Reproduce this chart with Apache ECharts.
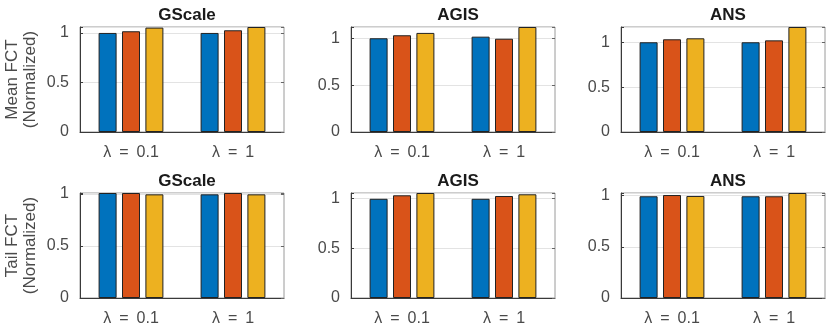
<!DOCTYPE html>
<html>
<head>
<meta charset="utf-8">
<script src="https://cdn.jsdelivr.net/npm/echarts@6/dist/echarts.min.js"></script>
<style>
  html, body { margin: 0; padding: 0; background: #fff; }
  #chart { width: 830px; height: 328px; }
</style>
</head>
<body>
<div id="chart"></div>
<script>
  // categories and labels
  const categories = ['λ = 0.1', 'λ = 1'];
  const titles = ['GScale', 'AGIS', 'ANS'];
  const rowNames = ['Mean FCT\n(Normalized)', 'Tail FCT\n(Normalized)'];
  const yTicks = [0, 0.5, 1];

  // each subplot: three series (blue, red, yellow), values per category
  const meanGScale = [[1.000, 1.000], [1.017, 1.027], [1.054, 1.060]];
  const meanAGIS   = [[1.000, 1.017], [1.032, 0.995], [1.057, 1.120]];
  const meanANS    = [[1.000, 1.000], [1.033, 1.021], [1.044, 1.170]];
  const tailGScale = [[1.010, 0.997], [1.010, 1.010], [0.997, 0.997]];
  const tailAGIS   = [[0.995, 0.995], [1.030, 1.023], [1.053, 1.040]];
  const tailANS    = [[0.994, 0.994], [1.006, 0.994], [0.997, 1.026]];

  const panels = [meanGScale, meanAGIS, meanANS, tailGScale, tailAGIS, tailANS];
  const colors = ['#0072BD', '#D95319', '#EDB120'];

  const font = 'Liberation Sans, Arial, Helvetica, sans-serif';
  const lefts = [80, 351, 621];
  const tops = [27, 193];
  const W = 204, H = 105;

  let grid = [], xAxis = [], yAxis = [], series = [], title = [];

  panels.forEach((panel, i) => {
    let row = Math.floor(i / 3), col = i % 3;
    let ymax = Math.max(...panel.flat());
    grid.push({
      left: lefts[col], top: tops[row], width: W, height: H,
      show: true, borderColor: '#9a9a9a', borderWidth: 1, backgroundColor: '#fff'
    });
    title.push({
      text: titles[col],
      left: lefts[col] + W / 2, top: tops[row] - 25,
      textAlign: 'center',
      textStyle: { fontFamily: font, fontSize: 17, fontWeight: 'bold', color: '#1a1a1a' }
    });
    // bottom x axis
    xAxis.push({
      type: 'category', gridIndex: i, data: categories,
      axisLine: { lineStyle: { color: '#3a3a3a' } },
      axisTick: { inside: true, length: 3, alignWithLabel: true, lineStyle: { color: '#3a3a3a' } },
      axisLabel: {
        fontFamily: font, fontSize: 16, color: '#4a4a4a', margin: 13,
        formatter: v => v.replace(/ /g, '\u2002')
      }
    });
    // top x axis (ticks only)
    xAxis.push({
      type: 'category', gridIndex: i, data: categories, position: 'top',
      axisLine: { show: false },
      axisTick: { inside: true, length: 3, alignWithLabel: true, lineStyle: { color: '#666' } },
      axisLabel: { show: false }
    });
    // left y axis
    yAxis.push({
      type: 'value', gridIndex: i, min: 0, max: ymax, interval: 0.5,
      name: col === 0 ? rowNames[row] : '',
      nameLocation: 'middle', nameGap: 41, nameRotate: 90,
      nameTextStyle: { fontFamily: font, fontSize: 17, color: '#4a4a4a', lineHeight: 18 },
      axisLine: { show: true, lineStyle: { color: '#3a3a3a' } },
      axisTick: { show: true, inside: true, length: 3, lineStyle: { color: '#3a3a3a' } },
      axisLabel: {
        fontFamily: font, fontSize: 16, color: '#4a4a4a', margin: 11,
        formatter: v => yTicks.some(t => Math.abs(t - v) < 1e-9) ? String(v) : ''
      },
      splitLine: { lineStyle: { color: '#e3e3e3' } }
    });
    // right y axis (ticks only)
    yAxis.push({
      type: 'value', gridIndex: i, min: 0, max: ymax, interval: 0.5, position: 'right',
      axisLine: { show: false },
      axisTick: { show: true, inside: true, length: 3, lineStyle: { color: '#666' } },
      axisLabel: { show: false },
      splitLine: { show: false }
    });
    panel.forEach((vals, s) => {
      series.push({
        type: 'bar', xAxisIndex: 2 * i, yAxisIndex: 2 * i,
        data: vals, barWidth: 18, barGap: '30%',
        itemStyle: { color: colors[s], borderColor: '#222', borderWidth: 1 },
        silent: true, animation: false
      });
    });
  });

  let myChart = echarts.init(document.getElementById('chart'));
  myChart.setOption({
    animation: false,
    title: title,
    grid: grid,
    xAxis: xAxis,
    yAxis: yAxis,
    series: series
  });
</script>
</body>
</html>
